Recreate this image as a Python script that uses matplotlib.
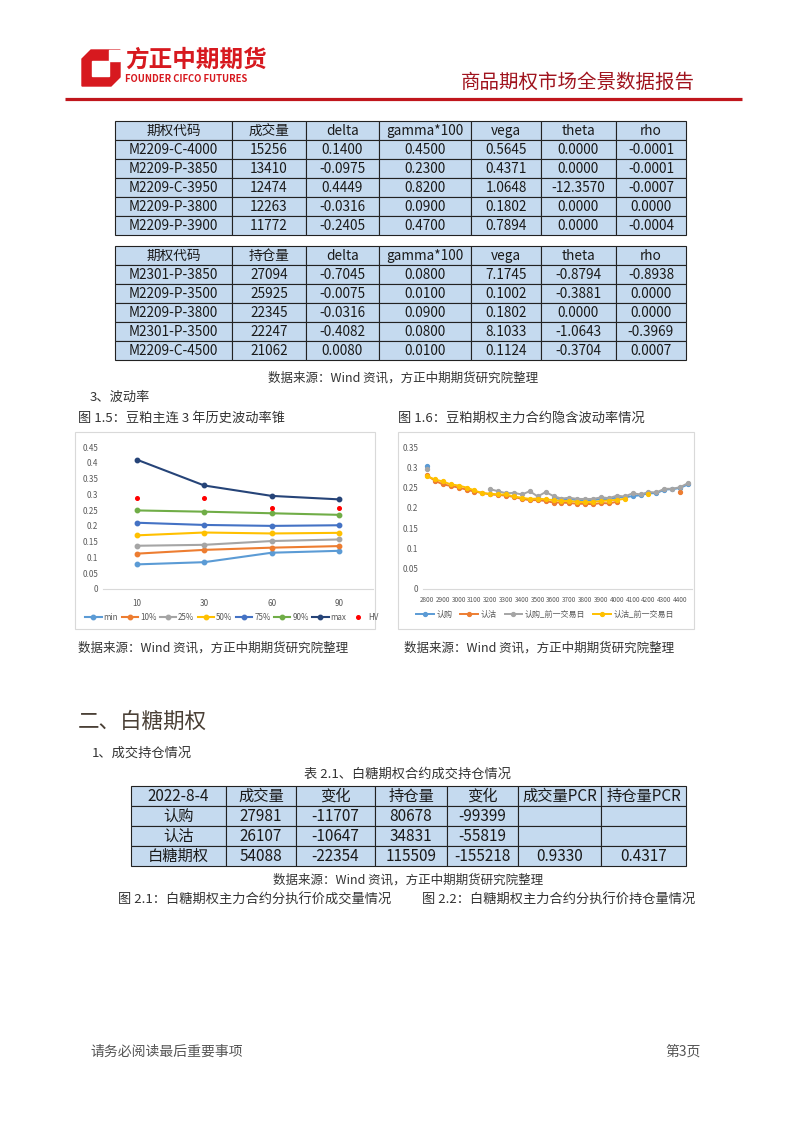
import numpy as np
import matplotlib.pyplot as plt
from matplotlib.patches import Rectangle, Polygon

plt.rcParams['font.family'] = ['Noto Sans CJK SC', 'DejaVu Sans']

# ---- data ----
# table 1: top volume contracts
t1_header = ['期权代码', '成交量', 'delta', 'gamma*100', 'vega', 'theta', 'rho']
t1_codes = ['M2209-C-4000', 'M2209-P-3850', 'M2209-C-3950', 'M2209-P-3800', 'M2209-P-3900']
t1_volume = [15256, 13410, 12474, 12263, 11772]
t1_delta = [0.1400, -0.0975, 0.4449, -0.0316, -0.2405]
t1_gamma = [0.4500, 0.2300, 0.8200, 0.0900, 0.4700]
t1_vega = [0.5645, 0.4371, 1.0648, 0.1802, 0.7894]
t1_theta = [0.0000, 0.0000, -12.3570, 0.0000, 0.0000]
t1_rho = [-0.0001, -0.0001, -0.0007, 0.0000, -0.0004]

# table 2: top open interest contracts
t2_header = ['期权代码', '持仓量', 'delta', 'gamma*100', 'vega', 'theta', 'rho']
t2_codes = ['M2301-P-3850', 'M2209-P-3500', 'M2209-P-3800', 'M2301-P-3500', 'M2209-C-4500']
t2_oi = [27094, 25925, 22345, 22247, 21062]
t2_delta = [-0.7045, -0.0075, -0.0316, -0.4082, 0.0080]
t2_gamma = [0.0800, 0.0100, 0.0900, 0.0800, 0.0100]
t2_vega = [7.1745, 0.1002, 0.1802, 8.1033, 0.1124]
t2_theta = [-0.8794, -0.3881, 0.0000, -1.0643, -0.3704]
t2_rho = [-0.8938, 0.0000, 0.0000, -0.3969, 0.0007]

# vol cone
cone_windows = ['10', '30', '60', '90']
cone_names = ['min', '10%', '25%', '50%', '75%', '90%', 'max']
cone_min = [0.078, 0.085, 0.115, 0.121]
cone_p10 = [0.112, 0.124, 0.131, 0.136]
cone_p25 = [0.137, 0.140, 0.152, 0.157]
cone_p50 = [0.170, 0.179, 0.176, 0.178]
cone_p75 = [0.210, 0.203, 0.200, 0.202]
cone_p90 = [0.249, 0.245, 0.240, 0.235]
cone_max = [0.410, 0.328, 0.295, 0.284]
cone_hv = [0.289, 0.289, 0.256, 0.256]

# implied vol smile, strikes 2800..4450
strikes = list(range(2800, 4451, 50))
nan = np.nan
iv_call = [0.303, nan, nan, nan, nan, nan, nan, nan, nan, nan, nan, nan, nan, nan, nan, nan,
           0.225, 0.221, 0.222, 0.219, 0.219, 0.219, 0.222, 0.221, 0.226, 0.226, 0.229, 0.231,
           0.236, 0.236, 0.245, 0.246, 0.249, 0.258]
iv_put = [0.280, 0.267, 0.258, 0.254, 0.250, 0.245, 0.240, 0.237, 0.233, 0.232, 0.230, 0.227,
          0.222, 0.219, 0.219, 0.217, 0.213, 0.213, 0.212, 0.210, 0.210, 0.209, 0.212, 0.211,
          0.215, nan, nan, nan, nan, nan, nan, nan, 0.238, nan]
iv_call_prev = [0.297, nan, nan, nan, nan, nan, nan, nan, 0.246, 0.241, 0.236, 0.237, 0.233, 0.241,
                0.228, 0.239, 0.229, 0.223, 0.225, 0.222, 0.222, 0.222, 0.226, 0.224, 0.230, 0.228,
                0.236, 0.233, 0.239, 0.238, 0.247, 0.247, 0.251, 0.261]
iv_put_prev = [0.278, 0.270, 0.265, 0.258, 0.255, 0.250, 0.243, 0.236, 0.235, 0.233, 0.233, 0.228,
               0.225, 0.222, 0.223, 0.221, 0.219, 0.217, 0.217, 0.215, 0.214, 0.215, 0.217, 0.218,
               0.220, 0.222, nan, nan, 0.233, nan, nan, nan, nan, nan]

# table 3: sugar options
t3_header = ['2022-8-4', '成交量', '变化', '持仓量', '变化', '成交量PCR', '持仓量PCR']
t3_rows = ['认购', '认沽', '白糖期权']
t3_volume = [27981, 26107, 54088]
t3_vol_chg = [-11707, -10647, -22354]
t3_oi = [80678, 34831, 115509]
t3_oi_chg = [-99399, -55819, -155218]
t3_vol_pcr = ['', '', '0.9330']
t3_oi_pcr = ['', '', '0.4317']

# ---- page ----
W, H = 802, 1133
fig = plt.figure(figsize=(W / 100, H / 100), dpi=100)
page = fig.add_axes([0, 0, 1, 1])
page.set_xlim(0, W)
page.set_ylim(H, 0)
page.axis('off')


def fax(x0, y0, x1, y1):
    return fig.add_axes([x0 / W, 1 - y1 / H, (x1 - x0) / W, (y1 - y0) / H])


# header
red = '#D7191F'
page.add_patch(Polygon([(91, 50), (120, 50), (120, 77), (111, 86), (82, 86), (82, 59)],
                       closed=True, color=red, zorder=2))
page.add_patch(Polygon([(92, 61), (109, 61), (109, 76), (92, 76)], closed=True, color='white', zorder=3))
page.add_patch(Polygon([(109, 50), (120, 50), (120, 61), (109, 61)], closed=True, color='white', zorder=3))
page.text(125, 60, '方正中期期货', fontsize=17, fontweight='bold', color=red, va='center')
page.text(125, 79, 'FOUNDER CIFCO FUTURES', fontsize=6.8, fontweight='bold', color=red, va='center')
page.text(695, 82, '商品期权市场全景数据报告', fontsize=14, color='#A0141E', va='center', ha='right')
page.plot([65, 742], [99, 99], color='#C0161C', lw=2.3, solid_capstyle='butt')


def draw_table(xs, ytop, rh, rows, fs):
    for r, row in enumerate(rows):
        y0 = ytop + r * rh
        for c, val in enumerate(row):
            page.add_patch(Rectangle((xs[c], y0), xs[c + 1] - xs[c], rh,
                                     facecolor='#C5DAEF', edgecolor='#222222', lw=0.8))
            page.text((xs[c] + xs[c + 1]) / 2, y0 + rh / 2 + 0.5, val, fontsize=fs,
                      ha='center', va='center', color='#1a1a1a')


f4 = lambda v: f'{v:.4f}'
rows1 = [t1_header] + [[a, str(b), f4(c), f4(d), f4(e), f4(f), f4(g)] for a, b, c, d, e, f, g in
                       zip(t1_codes, t1_volume, t1_delta, t1_gamma, t1_vega, t1_theta, t1_rho)]
rows2 = [t2_header] + [[a, str(b), f4(c), f4(d), f4(e), f4(f), f4(g)] for a, b, c, d, e, f, g in
                       zip(t2_codes, t2_oi, t2_delta, t2_gamma, t2_vega, t2_theta, t2_rho)]
cols12 = [115, 232, 306, 379, 471, 541, 616, 686]
draw_table(cols12, 121, 19, rows1, 9.8)
draw_table(cols12, 246, 19, rows2, 9.8)

src = '数据来源：Wind 资讯，方正中期期货研究院整理'
txt = '#333333'
page.text(403, 378, src, fontsize=9, color=txt, ha='center', va='center')
page.text(90, 397, '3、波动率', fontsize=9.5, color=txt, va='center')
page.text(78, 418, '图 1.5：豆粕主连 3 年历史波动率锥', fontsize=9.5, color=txt, va='center')
page.text(398, 418, '图 1.6：豆粕期权主力合约隐含波动率情况', fontsize=9.5, color=txt, va='center')

# chart frames
page.add_patch(Rectangle((75, 432), 300, 197, facecolor='white', edgecolor='#D9D9D9', lw=0.8))
page.add_patch(Rectangle((398, 432), 296, 197, facecolor='white', edgecolor='#D9D9D9', lw=0.8))

gray_lbl = '#595959'


def style_axis(ax, ymax, step):
    ax.set_ylim(0, ymax)
    ticks = np.arange(0, ymax + step / 2, step)
    ax.set_yticks(ticks)
    ax.set_yticklabels([f'{t:g}' for t in np.round(ticks, 2)])
    for s in ['top', 'right', 'left']:
        ax.spines[s].set_visible(False)
    ax.spines['bottom'].set_color('#D9D9D9')
    ax.tick_params(length=0, colors=gray_lbl, labelsize=5.8)
    ax.patch.set_alpha(0)


# chart 1: vol cone
ax1 = fax(103, 447, 373, 589)
cone_series = [cone_min, cone_p10, cone_p25, cone_p50, cone_p75, cone_p90, cone_max]
cone_colors = ['#5B9BD5', '#ED7D31', '#A5A5A5', '#FFC000', '#4472C4', '#70AD47', '#264478']
xc = np.arange(len(cone_windows))
for name, vals, c in zip(cone_names, cone_series, cone_colors):
    ax1.plot(xc, vals, color=c, lw=1.5, marker='o', ms=3.2, label=name)
ax1.plot(xc, cone_hv, ls='none', marker='o', ms=2.6, color='#FF0000', label='HV')
ax1.set_xlim(-0.5, len(cone_windows) - 0.5)
ax1.set_xticks(xc)
ax1.set_xticklabels(cone_windows)
style_axis(ax1, 0.45, 0.05)
ax1.tick_params(axis='x', pad=7)
ax1.legend(loc='center', bbox_to_anchor=(232 / W, 1 - 617 / H), bbox_transform=fig.transFigure,
           ncol=8, frameon=False, fontsize=5.8, handlelength=2.0, columnspacing=0.45,
           handletextpad=0.25, labelcolor=gray_lbl)

# chart 2: implied vol smile
ax2 = fax(423, 447, 692, 589)
xs2 = np.arange(len(strikes))
smile = [('认购', iv_call, '#5B9BD5'), ('认沽', iv_put, '#ED7D31'),
         ('认购_前一交易日', iv_call_prev, '#A5A5A5'), ('认沽_前一交易日', iv_put_prev, '#FFC000')]
for name, vals, c in smile:
    ax2.plot(xs2, vals, color=c, lw=1.4, marker='o', ms=2.8, label=name)
ax2.set_xlim(-0.5, len(strikes) - 0.5)
ax2.set_xticks(xs2[::2])
ax2.set_xticklabels([str(s) for s in strikes[::2]])
style_axis(ax2, 0.35, 0.05)
ax2.tick_params(axis='x', labelsize=4.6, pad=5)
ax2.legend(loc='center', bbox_to_anchor=(545 / W, 1 - 614 / H), bbox_transform=fig.transFigure,
           ncol=4, frameon=False, fontsize=5.8, handlelength=2.2, columnspacing=1.0,
           handletextpad=0.3, labelcolor=gray_lbl)

page.text(78, 648, src, fontsize=9, color=txt, va='center')
page.text(404, 648, src, fontsize=9, color=txt, va='center')

# section 2
page.text(78, 722, '二、白糖期权', fontsize=15.5, color='#4a4036', va='center')
page.text(92, 753, '1、成交持仓情况', fontsize=9.5, color=txt, va='center')
page.text(407, 774, '表 2.1、白糖期权合约成交持仓情况', fontsize=9.5, color=txt, ha='center', va='center')
rows3 = [t3_header] + [[a, str(b), str(c), str(d), str(e), f, g] for a, b, c, d, e, f, g in
                       zip(t3_rows, t3_volume, t3_vol_chg, t3_oi, t3_oi_chg, t3_vol_pcr, t3_oi_pcr)]
draw_table([131, 226, 296, 375, 447, 518, 601, 686], 786, 20, rows3, 11)
page.text(408, 880, src, fontsize=9, color=txt, ha='center', va='center')
page.text(118, 900, '图 2.1：白糖期权主力合约分执行价成交量情况', fontsize=9.5, color=txt, va='center')
page.text(422, 900, '图 2.2：白糖期权主力合约分执行价持仓量情况', fontsize=9.5, color=txt, va='center')

# footer
page.text(90, 1052, '请务必阅读最后重要事项', fontsize=10, color='#555555', va='center')
page.text(665, 1052, '第3页', fontsize=10, color='#555555', va='center')

fig.savefig('out.png', dpi=100)
